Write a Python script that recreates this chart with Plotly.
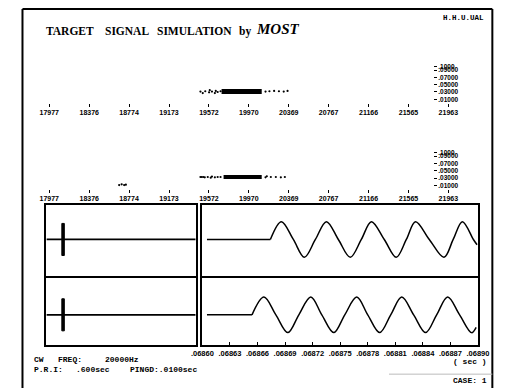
import plotly.graph_objects as go

W, H = 511, 388

# ---------------- data ----------------
freq_ticks = [17977, 18376, 18774, 19173, 19572, 19970, 20369, 20767, 21166, 21565, 21963]
level_ticks = [0.1, 0.09, 0.07, 0.05, 0.03, 0.01]
level_labels = [".1000", ".09000", ".07000", ".05000", ".03000", ".01000"]

spec1_dot_freq = [19487, 19510, 19535, 19573, 19580, 19602, 19631, 19640, 19659, 19688,
                  20137, 20176, 20223, 20271, 20319, 20357]
spec1_dot_level = [0.031, 0.027, 0.032, 0.029, 0.035, 0.031, 0.027, 0.033, 0.030, 0.032,
                   0.031, 0.032, 0.033, 0.032, 0.031, 0.033]
spec1_core_freq = [19698, 20099]
spec1_core_level = 0.031

spec2_dot_freq = [19487, 19500, 19515, 19530, 19560, 19590, 19602, 19631, 19659, 19688,
                  20137, 20150, 20190, 20240, 20290, 20330,
                  18675, 18700, 18725, 18742]
spec2_dot_level = [0.033, 0.033, 0.033, 0.032, 0.033, 0.031, 0.034, 0.032, 0.033, 0.033,
                   0.032, 0.035, 0.033, 0.033, 0.032, 0.033,
                   0.011, 0.013, 0.011, 0.012]
spec2_core_freq = [19718, 20099]
spec2_core_level = 0.033

pri_range = [0.0, 0.6]          # sec, long time axis (left boxes)
pulse_start = 0.062             # sec
pulse_len = 0.0100              # sec
pulse_amp = 0.9

time_ticks = [0.06860, 0.06863, 0.06866, 0.06869, 0.06872, 0.06875,
              0.06878, 0.06881, 0.06884, 0.06887, 0.06890]

ch1_flat_t = [0.068605, 0.068674]
ch1_t = [0.068674, 0.068686, 0.068699, 0.068711, 0.068723, 0.068735, 0.068748,
         0.068761, 0.068773, 0.068784, 0.068798, 0.068811, 0.068822, 0.068832, 0.068847,
         0.068863, 0.068873, 0.068883, 0.068895, 0.068899]
ch1_v = [0, 1, 0, -1, 0, 1, 0, -1, 0, 1, 0, -1, 0, 1, 0, -1, 0, 1, 0, -0.3]

ch2_flat_t = [0.068605, 0.068654]
ch2_t = [0.068654, 0.068667, 0.068680, 0.068693, 0.068705, 0.068718, 0.068730,
         0.068743, 0.068755, 0.068768, 0.068780, 0.068793, 0.068805, 0.068817, 0.068830,
         0.068843, 0.068855, 0.068867, 0.068880, 0.068893, 0.068898]
ch2_v = [0, 1, 0, -1, 0, 1, 0, -1, 0, 1, 0, -1, 0, 1, 0, -1, 0, 1, 0, -1, -0.7]


def fx(x):
    return x / W


def fy(y):
    return 1 - y / H


fig = go.Figure()
dot = dict(size=2.2, color="black")

# spectrum row 1
fig.add_trace(go.Scatter(x=spec1_dot_freq, y=spec1_dot_level, mode="markers", marker=dot,
                         xaxis="x", yaxis="y"))
fig.add_trace(go.Scatter(x=spec1_core_freq, y=[spec1_core_level] * 2, mode="lines",
                         line=dict(width=5, color="black"), xaxis="x", yaxis="y"))
# spectrum row 2
fig.add_trace(go.Scatter(x=spec2_dot_freq, y=spec2_dot_level, mode="markers", marker=dot,
                         xaxis="x2", yaxis="y2"))
fig.add_trace(go.Scatter(x=spec2_core_freq, y=[spec2_core_level] * 2, mode="lines",
                         line=dict(width=4, color="black"), xaxis="x2", yaxis="y2"))

# left boxes: long time base with pulse
for xa, ya in (("x3", "y3"), ("x4", "y4")):
    fig.add_trace(go.Scatter(x=pri_range, y=[0, 0], mode="lines",
                             line=dict(width=1.8, color="black"), xaxis=xa, yaxis=ya))
    fig.add_trace(go.Scatter(
        x=[pulse_start, pulse_start + pulse_len, pulse_start + pulse_len, pulse_start, pulse_start],
        y=[-pulse_amp, -pulse_amp, pulse_amp, pulse_amp, -pulse_amp],
        mode="lines", fill="toself", fillcolor="black",
        line=dict(width=1, color="black"), xaxis=xa, yaxis=ya))

# right boxes: zoomed waveforms (flat lead-in + CW signal)
wave = dict(width=1.5, color="black", shape="spline", smoothing=1.0)
fig.add_trace(go.Scatter(x=ch1_flat_t, y=[0, 0], mode="lines",
                         line=dict(width=1.5, color="black"), xaxis="x5", yaxis="y5"))
fig.add_trace(go.Scatter(x=ch1_t, y=ch1_v, mode="lines", line=wave, xaxis="x5", yaxis="y5"))
fig.add_trace(go.Scatter(x=ch2_flat_t, y=[0, 0], mode="lines",
                         line=dict(width=1.5, color="black"), xaxis="x6", yaxis="y6"))
fig.add_trace(go.Scatter(x=ch2_t, y=ch2_v, mode="lines", line=wave, xaxis="x6", yaxis="y6"))

tickf = dict(family="Liberation Sans", size=7, color="black", weight="bold")

spec_x = dict(range=[freq_ticks[0], freq_ticks[-1]], tickmode="array", tickvals=freq_ticks,
              ticktext=[str(v) for v in freq_ticks], ticks="outside", ticklen=3, tickwidth=1,
              tickcolor="black", showline=False, showgrid=False, zeroline=False,
              tickfont=tickf, domain=[fx(40), fx(457)])
spec_y = dict(range=[0, 0.1], tickmode="array", tickvals=level_ticks, ticktext=level_labels,
              ticks="outside", ticklen=3, tickcolor="black", side="right", anchor="free",
              position=fx(441), showline=False, showgrid=False, zeroline=False,
              tickfont=dict(family="Liberation Sans", size=6.5, color="black", weight="bold"))

box = dict(showline=True, mirror=True, linewidth=2, linecolor="black", showgrid=False,
           zeroline=False, showticklabels=False, ticks="")

layout = dict(
    width=W, height=H, margin=dict(l=0, r=0, t=0, b=0),
    paper_bgcolor="white", plot_bgcolor="white", showlegend=False,
    xaxis=dict(spec_x, anchor="y"),
    yaxis=dict(spec_y, domain=[fy(100), fy(63)]),
    xaxis2=dict(spec_x, anchor="y2"),
    yaxis2=dict(spec_y, domain=[fy(187), fy(150)]),
    xaxis3=dict(box, range=pri_range, domain=[fx(37), fx(193)], anchor="y3"),
    yaxis3=dict(box, range=[-2.06, 1.94], domain=[fy(275), fy(203)], anchor="x3"),
    xaxis4=dict(box, range=pri_range, domain=[fx(37), fx(193)], anchor="y4"),
    yaxis4=dict(box, range=[-1.72, 2.06], domain=[fy(345), fy(277)], anchor="x4"),
    xaxis5=dict(box, range=[time_ticks[0], time_ticks[-1]], domain=[fx(200), fx(488)], anchor="y5"),
    yaxis5=dict(box, range=[-2.06, 1.94], domain=[fy(275), fy(203)], anchor="x5"),
    xaxis6=dict(box, range=[time_ticks[0], time_ticks[-1]], domain=[fx(200), fx(488)], anchor="y6",
                tickmode="array", tickvals=time_ticks,
                ticktext=[("%.5f" % v)[1:] for v in time_ticks],
                showticklabels=True, ticks="inside", ticklen=3, tickcolor="black",
                tickfont=dict(family="Liberation Sans", size=7.5, color="black", weight="bold")),
    yaxis6=dict(box, range=[-1.72, 2.06], domain=[fy(345), fy(277)], anchor="x6"),
)
fig.update_layout(**layout)

# outer frame
frame = dict(type="line", xref="paper", yref="paper", line=dict(color="black", width=2))
fig.add_shape(frame, x0=fx(12), x1=fx(12), y0=fy(5), y1=fy(390))
fig.add_shape(frame, x0=fx(12), x1=fx(503), y0=fy(5), y1=fy(5))
fig.add_shape(frame, x0=fx(503), x1=fx(503), y0=fy(5), y1=fy(390))
fig.add_shape(type="line", xref="paper", yref="paper", x0=fx(395), x1=fx(503), y0=fy(374), y1=fy(374),
              line=dict(color="#bbbbbb", width=1))


def txt(s, x, y, size, family="Liberation Mono", weight="bold", style="normal", anchor="left"):
    fig.add_annotation(text=s, x=fx(x), y=fy(y), xref="paper", yref="paper", showarrow=False,
                       xanchor=anchor, yanchor="middle",
                       font=dict(family=family, size=size, color="black", weight=weight, style=style))


serif = "Liberation Serif"
txt("TARGET", 35, 27, 11.5, serif)
txt("SIGNAL", 96, 27, 11.5, serif)
txt("SIMULATION", 150, 27, 11.5, serif)
txt("by", 236, 28, 11.5, serif)
txt("MOST", 254, 25, 15, serif, style="italic")
txt("H.H.U.UAL", 496, 14, 7.5, anchor="right")

txt("CW", 22, 359, 8)
txt("FREQ:", 47, 359, 8)
txt("20000Hz", 96, 359, 8)
txt("P.R.I:", 22, 369, 8)
txt(".600sec", 66, 369, 8)
txt("PINGD:.0100sec", 122, 369, 8)
txt("( sec )", 500, 361, 8, anchor="right")
txt("CASE: 1", 500, 380, 8, anchor="right")

fig.write_html("out.html", config={"displayModeBar": False, "staticPlot": True},
               post_script="document.body.style.margin='0px';")
